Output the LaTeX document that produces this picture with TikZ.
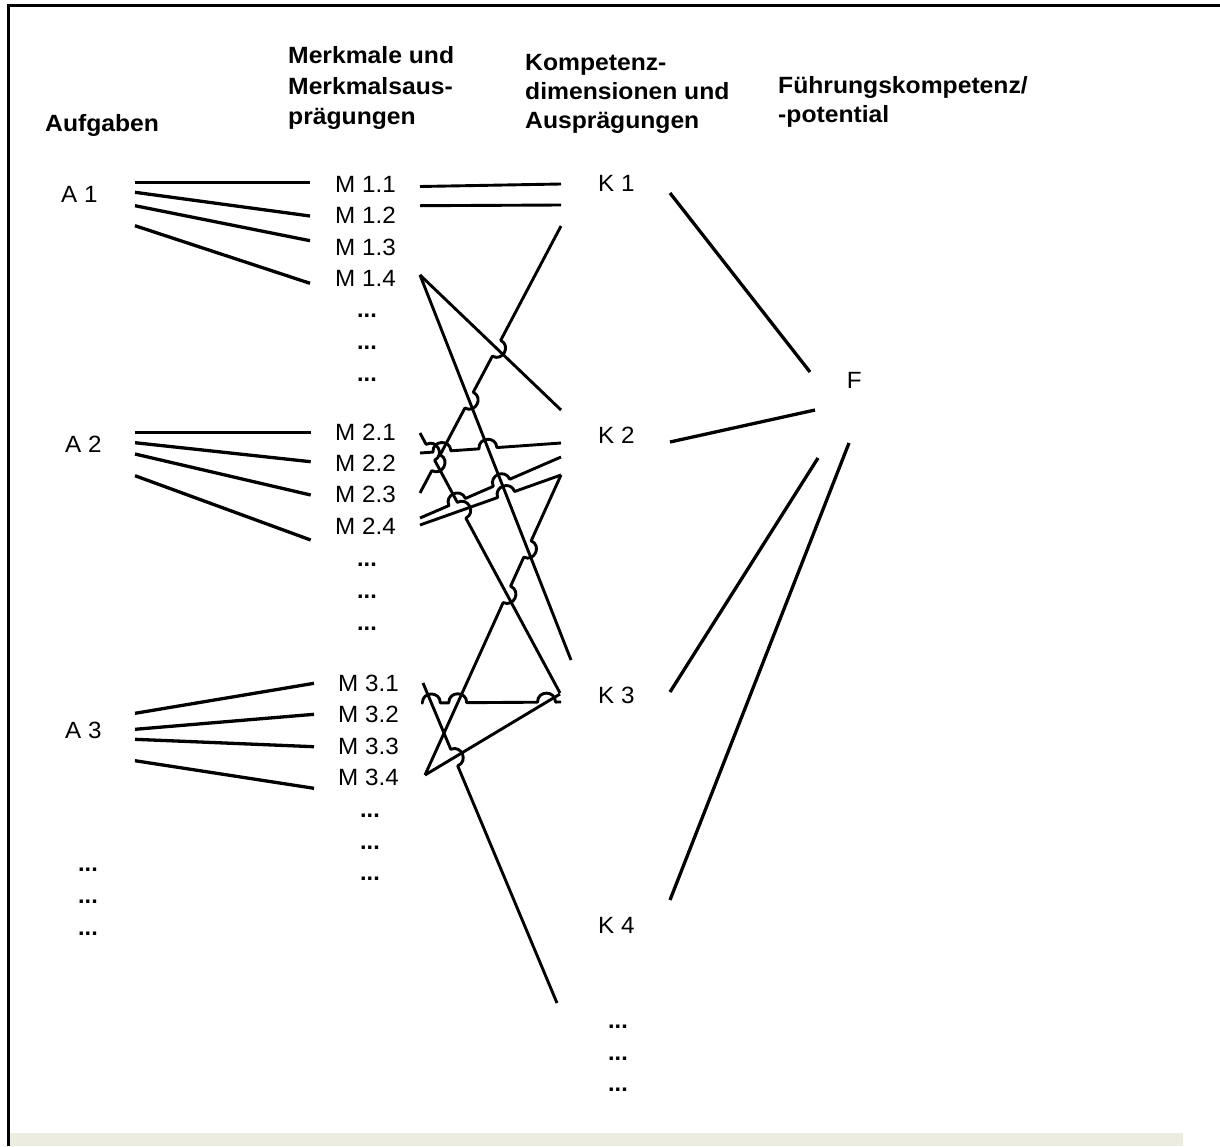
\documentclass[tikz,border=0pt]{standalone}
\usepackage{fontspec}
\setmainfont{Liberation Sans}
\usetikzlibrary{calc}
\definecolor{bandc}{RGB}{236,236,225}
\newcommand\hp[3]{-- ($(#1)!9pt!(#2)$) to[bend left=90,looseness=1.7] ($(#1)!9pt!(#3)$)}
\tikzset{
  lbl/.style={anchor=base west, inner sep=0pt, xscale=1.03, font=\fontsize{23.5}{27}\selectfont},
  hdr/.style={anchor=base west, inner sep=0pt, xscale=1.05, font=\fontsize{23.5}{28}\selectfont\bfseries},
  dts/.style={anchor=base west, inner sep=0pt, font=\fontsize{23.5}{27}\selectfont\bfseries},
  conn/.style={line width=3.3pt},
  cmid/.style={line width=2.9pt, line join=round},
  frame/.style={line width=3pt}
}
\begin{document}
\begin{tikzpicture}[x=1pt,y=-1pt]
\useasboundingbox (0,0) rectangle (1220,1146);
\fill[bandc] (10,1133) rectangle (1183,1146);
\draw[frame] (8.7,1146) -- (8.7,5) -- (1220,5);

% headers
\node[hdr] (hA)  at (45,131.7) {Aufgaben};
\node[hdr] (hM1) at (288,63.3) {Merkmale und};
\node[hdr] (hM2) at (288,94) {Merkmalsaus-};
\node[hdr] (hM3) at (288,124.5) {prägungen};
\node[hdr] (hK1) at (525,70) {Kompetenz-};
\node[hdr] (hK2) at (525,99) {dimensionen und};
\node[hdr] (hK3) at (525,128.5) {Ausprägungen};
\node[hdr] (hF1) at (778,93) {Führungskompetenz/};
\node[hdr] (hF2) at (778,122) {-potential};

% A labels
\node[lbl] (A1) at (61,202.7) {A 1};
\node[lbl] (A2) at (65,452.7) {A 2};
\node[lbl] (A3) at (65,738.3) {A 3};
\node[dts] (Ad1) at (78,871) {...};
\node[dts] (Ad2) at (78,903) {...};
\node[dts] (Ad3) at (78,935) {...};

% M labels
\node[lbl] (M11) at (335,192.3) {M 1.1};
\node[lbl] (M12) at (335,223.5) {M 1.2};
\node[lbl] (M13) at (335,255) {M 1.3};
\node[lbl] (M14) at (335,286.3) {M 1.4};
\node[dts] (Md11) at (357,317.7) {...};
\node[dts] (Md12) at (357,349.3) {...};
\node[dts] (Md13) at (357,381) {...};
\node[lbl] (M21) at (335,440.7) {M 2.1};
\node[lbl] (M22) at (335,471.7) {M 2.2};
\node[lbl] (M23) at (335,502.7) {M 2.3};
\node[lbl] (M24) at (335,534.3) {M 2.4};
\node[dts] (Md21) at (357,566.7) {...};
\node[dts] (Md22) at (357,598) {...};
\node[dts] (Md23) at (357,630) {...};
\node[lbl] (M31) at (338,691) {M 3.1};
\node[lbl] (M32) at (338,722.7) {M 3.2};
\node[lbl] (M33) at (338,754) {M 3.3};
\node[lbl] (M34) at (338,785) {M 3.4};
\node[dts] (Md31) at (360,817) {...};
\node[dts] (Md32) at (360,849) {...};
\node[dts] (Md33) at (360,880) {...};

% K labels
\node[lbl] (K1) at (598,191.5) {K 1};
\node[lbl] (K2) at (598,443.3) {K 2};
\node[lbl] (K3) at (598,703.3) {K 3};
\node[lbl] (K4) at (598,933) {K 4};
\node[dts] (Kd1) at (608,1028) {...};
\node[dts] (Kd2) at (608,1060) {...};
\node[dts] (Kd3) at (608,1091) {...};
\node[lbl] (F) at (846.7,388.3) {F};

% connector end points
\coordinate (A1a) at (135,182.3); \coordinate (m11w) at (310,182.3);
\coordinate (A1b) at (135,192.3); \coordinate (m12w) at (310,216);
\coordinate (A1c) at (135,205.7); \coordinate (m13w) at (310,240.7);
\coordinate (A1d) at (135,225.7); \coordinate (m14w) at (310,283.3);
\coordinate (A2a) at (135,432.3); \coordinate (m21w) at (310.7,432.3);
\coordinate (A2b) at (135,442.7); \coordinate (m22w) at (310.7,461.7);
\coordinate (A2c) at (135,454);   \coordinate (m23w) at (310.7,495);
\coordinate (A2d) at (135,475.7); \coordinate (m24w) at (310.7,540);
\coordinate (A3a) at (135,713.3); \coordinate (m31w) at (314,683.3);
\coordinate (A3b) at (135,729.3); \coordinate (m32w) at (314,714.3);
\coordinate (A3c) at (135,739.3); \coordinate (m33w) at (314,746.7);
\coordinate (A3d) at (135,760.7); \coordinate (m34w) at (314,788.3);

\coordinate (m11e) at (420,186.5); \coordinate (k1a) at (561,184);
\coordinate (m12e) at (420,205.7); \coordinate (k1b) at (561,205);
\coordinate (k1c) at (561,226);    \coordinate (m23e) at (420,493);
\coordinate (m14e) at (420,275);   \coordinate (k2a) at (561,410);
\coordinate (k3a) at (571,660);
\coordinate (m21e) at (420,433);   \coordinate (k3b) at (560,693);
\coordinate (m22e) at (420,453);   \coordinate (k2b) at (561,443);
\coordinate (m24e) at (420,518);   \coordinate (k2c) at (561,457);
\coordinate (m24f) at (420,525);   \coordinate (k2d) at (561,475);
\coordinate (m34e) at (425,775);
\coordinate (m31e) at (423,683);   \coordinate (k4a) at (557,1003);
\coordinate (m32e) at (423,703);   \coordinate (k3c) at (561,702);
\coordinate (k3d) at (560,694);

\coordinate (k1r) at (670,193); \coordinate (f1) at (810,372);
\coordinate (k2r) at (670,442); \coordinate (f2) at (815,410);
\coordinate (k3r) at (670,692); \coordinate (f3) at (818,458);
\coordinate (k4r) at (670,900); \coordinate (f4) at (849,443);

% crossings (jump points)
\coordinate (X1) at (intersection of k1c--m23e and m14e--k2a);
\coordinate (X2) at (intersection of k1c--m23e and m14e--k3a);
\coordinate (X3) at (intersection of k1c--m23e and m21e--k3b);
\coordinate (Y1) at (intersection of m22e--k2b and k1c--m23e);
\coordinate (Y2) at (intersection of m22e--k2b and m14e--k3a);
\coordinate (Z1) at (intersection of m21e--k3b and m22e--k2b);
\coordinate (Z2) at (intersection of m21e--k3b and m24f--k2d);
\coordinate (H1) at (intersection of m24e--k2c and m21e--k3b);
\coordinate (H2) at (intersection of m24e--k2c and m14e--k3a);
\coordinate (I1) at (intersection of m24f--k2d and m14e--k3a);
\coordinate (J1) at (intersection of k2d--m34e and m14e--k3a);
\coordinate (J2) at (intersection of k2d--m34e and m21e--k3b);
\coordinate (L1) at (intersection of m32e--k3c and m31e--k4a);
\coordinate (L2) at (intersection of m32e--k3c and k2d--m34e);
\coordinate (L3) at (intersection of m32e--k3c and m34e--k3d);
\coordinate (Kx) at (intersection of m31e--k4a and m34e--k3d);

% A -> M
\foreach \g/\m in {1/1,2/2,3/3}{
  \draw[conn] (A\g a) -- (m\m1w);
  \draw[conn] (A\g b) -- (m\m2w);
  \draw[conn] (A\g c) -- (m\m3w);
  \draw[conn] (A\g d) -- (m\m4w);
}

% M -> K
\draw[cmid] (m11e) -- (k1a);
\draw[cmid] (m12e) -- (k1b);
\draw[cmid] (m14e) -- (k2a);
\draw[cmid] (m14e) -- (k3a);
\draw[cmid] (k1c) \hp{X1}{k1c}{m23e} \hp{X2}{k1c}{m23e} \hp{X3}{k1c}{m23e} -- (m23e);
\draw[cmid] (m22e) \hp{Y1}{m22e}{k2b} \hp{Y2}{m22e}{k2b} -- (k2b);
\draw[cmid] (m21e) \hp{Z1}{m21e}{k3b} \hp{Z2}{m21e}{k3b} -- (k3b);
\draw[cmid] (m24e) \hp{H1}{m24e}{k2c} \hp{H2}{m24e}{k2c} -- (k2c);
\draw[cmid] (m24f) \hp{I1}{m24f}{k2d} -- (k2d);
\draw[cmid] (k2d) \hp{J1}{k2d}{m34e} \hp{J2}{k2d}{m34e} -- (m34e);
\draw[cmid] (m32e) \hp{L1}{m32e}{k3c} \hp{L2}{m32e}{k3c} \hp{L3}{m32e}{k3c} -- (k3c);
\draw[cmid] (m31e) \hp{Kx}{m31e}{k4a} -- (k4a);
\draw[cmid] (m34e) -- (k3d);

% K -> F
\draw[conn] (k1r) -- (f1);
\draw[conn] (k2r) -- (f2);
\draw[conn] (k3r) -- (f3);
\draw[conn] (k4r) -- (f4);
\end{tikzpicture}
\end{document}
